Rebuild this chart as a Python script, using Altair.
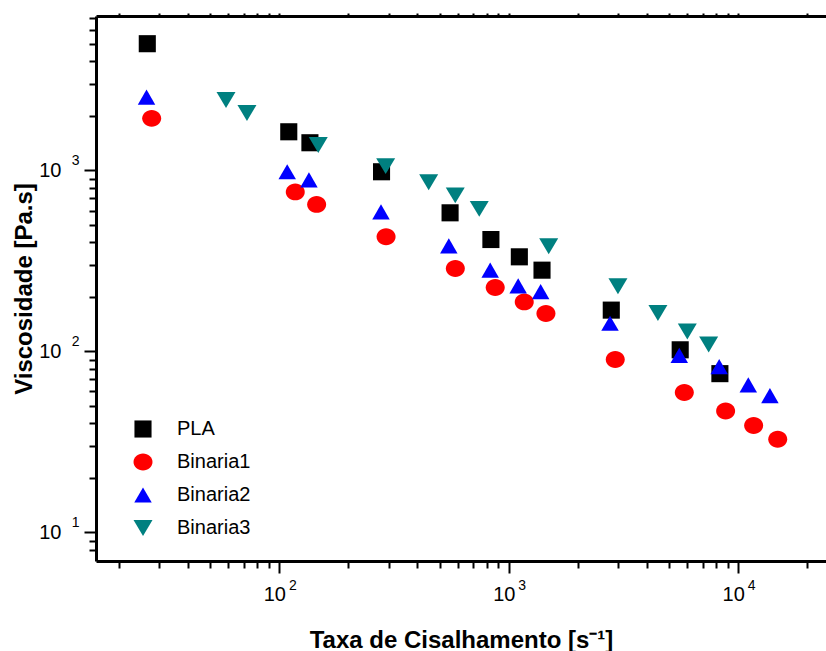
import altair as alt
import pandas as pd

series_names = ["PLA", "Binaria1", "Binaria2", "Binaria3"]
series_colors = ["#000000", "#FF0000", "#0000FF", "#008080"]

pla_rate = [26.6, 110, 136, 279, 555, 836, 1112, 1396, 2797, 5585, 8318]
pla_visc = [5015, 1635, 1422, 983, 583, 415, 333, 281, 169, 102, 75.3]

b1_rate = [27.8, 117.4, 145.5, 292, 585, 873, 1168, 1452, 2911, 5820, 8810, 11670, 14860]
b1_visc = [1940, 761, 649, 430, 287, 225.5, 187.6, 161.8, 90.2, 59.2, 46.8, 38.9, 32.7]

b2_rate = [26.4, 108.3, 134.7, 277.5, 548, 830, 1099, 1377, 2762, 5534, 8260, 11060, 13740]
b2_visc = [2541, 983, 887, 590, 383, 281, 230, 214, 143, 94.9, 82.4, 65.2, 56.9]

b3_rate = [58.6, 72.3, 147.9, 290.8, 447.7, 584.6, 743.7, 1493, 2991, 4467, 5998, 7431]
b3_visc = [2449, 2075, 1380, 1056, 861, 728, 613, 381, 229, 163, 128.7, 109]

x_ticks = [20, 30, 40, 50, 60, 70, 80, 90,
           100, 200, 300, 400, 500, 600, 700, 800, 900,
           1000, 2000, 3000, 4000, 5000, 6000, 7000, 8000, 9000,
           10000, 20000]
y_ticks = [8, 9, 10, 20, 30, 40, 50, 60, 70, 80, 90,
           100, 200, 300, 400, 500, 600, 700, 800, 900,
           1000, 2000, 3000, 4000, 5000, 6000, 7000]
x_major = [100, 1000, 10000]
y_major = [10, 100, 1000]

# marker shapes (unit box -1..1)
shape_paths = [
    "M-0.9,-0.9L0.9,-0.9L0.9,0.9L-0.9,0.9Z",
    "M-1,0A1,0.89,0,1,1,1,0A1,0.89,0,1,1,-1,0Z",
    "M0,-0.8L0.92,0.8L-0.92,0.8Z",
    "M-1,-0.84L1,-0.84L0,0.84Z",
]

rows = []
for name, xs, ys in [("PLA", pla_rate, pla_visc), ("Binaria1", b1_rate, b1_visc),
                     ("Binaria2", b2_rate, b2_visc), ("Binaria3", b3_rate, b3_visc)]:
    for xv, yv in zip(xs, ys):
        rows.append({"serie": name, "rate": xv, "visc": yv})
df = pd.DataFrame(rows)

FONT = "Liberation Sans"
x_scale = alt.Scale(type="log", domain=[15.9, 24120], nice=False)
y_scale = alt.Scale(type="log", domain=[6.94, 7135], nice=False)

base_expr = "indexof([10, 100, 1000, 10000], datum.value) >= 0 ? '10' : ''"
exp_expr = "format(log(datum.value) / LN10, '.0f')"
major_test = "indexof([10, 100, 1000, 10000], datum.value) >= 0"
tick_size = {"condition": {"test": major_test, "value": 12}, "value": 7}

legend = alt.Legend(
    title=None, orient="none", legendX=37, legendY=403,
    symbolSize=361, symbolStrokeWidth=0, symbolOpacity=1,
    labelFont=FONT, labelFontSize=20, labelColor="black",
    labelOffset=24, rowPadding=13, padding=0,
)

points = alt.Chart(df).mark_point(filled=True, opacity=1, size=361, strokeWidth=0).encode(
    x=alt.X("rate:Q", scale=x_scale, axis=alt.Axis(
        orient="bottom", values=x_ticks, tickSize=tick_size, tickWidth=2, tickColor="black",
        domainWidth=3, domainColor="black", grid=False,
        labelExpr=base_expr, labelFont=FONT, labelFontSize=20, labelColor="black",
        labelPadding=27, labelBaseline="alphabetic", labelOffset=-5,
        labelFlush=False, labelOverlap=False,
        title="Taxa de Cisalhamento [s\u207b\u00b9]", titleFont=FONT, titleFontSize=24,
        titleFontWeight="bold", titleColor="black", titleY=86, titleBaseline="alphabetic",
    )),
    y=alt.Y("visc:Q", scale=y_scale, axis=alt.Axis(
        orient="left", values=y_ticks, tickSize=tick_size, tickWidth=2, tickColor="black",
        domainWidth=3, domainColor="black", grid=False,
        labelExpr=base_expr, labelFont=FONT, labelFontSize=20, labelColor="black",
        labelPadding=23, labelFlush=False, labelOverlap=False,
        title="Viscosidade [Pa.s]", titleFont=FONT, titleFontSize=24,
        titleFontWeight="bold", titleColor="black", titleX=-72, titleBaseline="middle",
    )),
    color=alt.Color("serie:N", scale=alt.Scale(domain=series_names, range=series_colors), legend=legend),
    shape=alt.Shape("serie:N", scale=alt.Scale(domain=series_names, range=shape_paths), legend=legend),
)

x_exp = alt.Chart(df).mark_point(opacity=0).encode(
    x=alt.X("rate:Q", scale=x_scale, axis=alt.Axis(
        orient="bottom", values=x_major, ticks=False, tickSize=0, domain=False, grid=False,
        labelExpr=exp_expr, labelFont=FONT, labelFontSize=14, labelColor="black",
        labelPadding=28, labelBaseline="alphabetic", labelOffset=13,
        labelFlush=False, labelOverlap=False, title=None,
    )),
    y=alt.Y("visc:Q", scale=y_scale, axis=None),
)

y_exp = alt.Chart(df).mark_point(opacity=0).encode(
    x=alt.X("rate:Q", scale=x_scale, axis=None),
    y=alt.Y("visc:Q", scale=y_scale, axis=alt.Axis(
        orient="left", values=y_major, ticks=False, tickSize=0, domain=False, grid=False,
        labelExpr=exp_expr, labelFont=FONT, labelFontSize=14, labelColor="black",
        labelPadding=17, labelOffset=-10, labelAlign="right",
        labelFlush=False, labelOverlap=False, title=None,
    )),
)

top_axis = alt.Chart(df).mark_point(opacity=0).encode(
    x=alt.X("rate:Q", scale=x_scale, axis=alt.Axis(
        orient="top", values=x_ticks, tickSize=3, tickWidth=2, tickColor="black",
        domainWidth=3, domainColor="black", labels=False, title=None, grid=False,
    )),
    y=alt.Y("visc:Q", scale=y_scale, axis=None),
)

chart = alt.layer(points, x_exp, y_exp, top_axis).resolve_axis(
    x="independent", y="independent"
).properties(
    width=730, height=545,
    autosize=alt.AutoSizeParams(type="none"),
    padding={"left": 96, "top": 16, "right": 0, "bottom": 90},
).configure_view(stroke=None).configure(background="white")

chart.save("out.html", embed_options={"renderer": "svg", "actions": False})
